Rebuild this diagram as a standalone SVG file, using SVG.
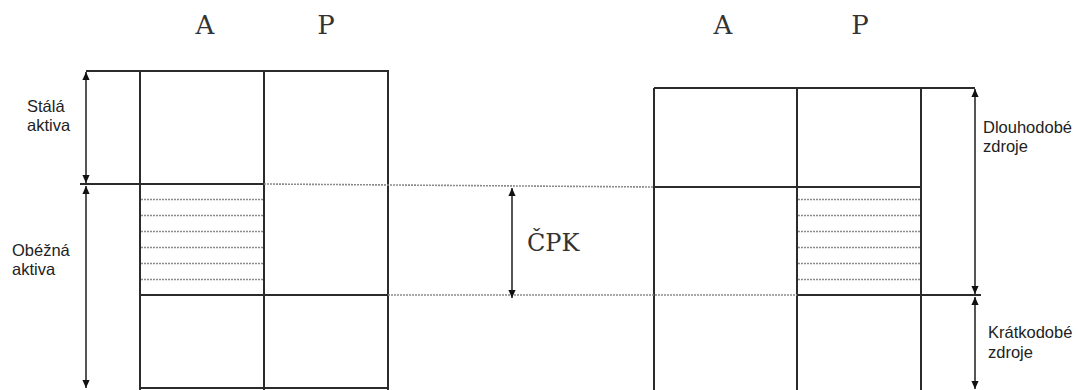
<svg xmlns="http://www.w3.org/2000/svg" width="1078" height="390" viewBox="0 0 1078 390">
<style>
.ln{stroke:#2b2b2b;stroke-width:2;fill:none}
.dot{stroke:#8a8a8a;stroke-width:1.6;stroke-dasharray:2 1;fill:none}
.arr{stroke:#2b2b2b;stroke-width:1.6;fill:none;marker-start:url(#ah);marker-end:url(#ah)}
.hd{font-family:"DejaVu Serif","Liberation Serif",serif;font-size:26px;fill:#333}
.cpk{font-family:"DejaVu Serif","Liberation Serif",serif;font-size:24px;fill:#333}
.lb{font-family:"Liberation Sans","Open Sans",sans-serif;font-size:16.5px;fill:#222}
</style>
<defs>
<marker id="ah" viewBox="0 0 10 10" refX="10" refY="5" markerWidth="8" markerHeight="8" markerUnits="userSpaceOnUse" orient="auto-start-reverse">
<path d="M0,0.5 L10,5 L0,9.5 Z" fill="#111"/>
</marker>
</defs>
<rect width="1078" height="390" fill="#fff"/>
<g id="headers">
<text class="hd" x="205" y="34" text-anchor="middle">A</text>
<text class="hd" x="326" y="34" text-anchor="middle">P</text>
<text class="hd" x="723" y="34" text-anchor="middle">A</text>
<text class="hd" x="860" y="34" text-anchor="middle">P</text>
</g>
<g id="left-balance">
<line class="ln" x1="86" y1="71" x2="389" y2="71"/>
<line class="ln" x1="140" y1="71" x2="140" y2="390"/>
<line class="ln" x1="264" y1="71" x2="264" y2="390"/>
<line class="ln" x1="388" y1="71" x2="388" y2="390"/>
<line class="ln" x1="80" y1="184" x2="264" y2="184"/>
<line class="ln" x1="140" y1="295" x2="388" y2="295"/>
<line class="ln" x1="140" y1="388" x2="388" y2="388"/>
<g class="dot">
<line x1="141" y1="199.5" x2="263" y2="199.5"/>
<line x1="141" y1="215.5" x2="263" y2="215.5"/>
<line x1="141" y1="231.5" x2="263" y2="231.5"/>
<line x1="141" y1="247.5" x2="263" y2="247.5"/>
<line x1="141" y1="263.5" x2="263" y2="263.5"/>
<line x1="141" y1="279.5" x2="263" y2="279.5"/>
</g>
</g>
<g id="right-balance">
<line class="ln" x1="654" y1="88" x2="975" y2="88"/>
<line class="ln" x1="654" y1="88" x2="654" y2="390"/>
<line class="ln" x1="797" y1="88" x2="797" y2="390"/>
<line class="ln" x1="921" y1="88" x2="921" y2="390"/>
<line class="ln" x1="654" y1="187" x2="921" y2="187"/>
<line class="ln" x1="797" y1="295" x2="981" y2="295"/>
<g class="dot">
<line x1="798" y1="199.5" x2="920" y2="199.5"/>
<line x1="798" y1="215.5" x2="920" y2="215.5"/>
<line x1="798" y1="231.5" x2="920" y2="231.5"/>
<line x1="798" y1="247.5" x2="920" y2="247.5"/>
<line x1="798" y1="263.5" x2="920" y2="263.5"/>
<line x1="798" y1="279.5" x2="920" y2="279.5"/>
</g>
</g>
<g id="connectors">
<line class="dot" x1="264" y1="184" x2="654" y2="187"/>
<line class="dot" x1="388" y1="295" x2="797" y2="295"/>
<line class="arr" x1="86" y1="72" x2="86" y2="183"/>
<line class="arr" x1="86" y1="186" x2="86" y2="388"/>
<line class="arr" x1="512" y1="188" x2="512" y2="298"/>
<line class="arr" x1="975" y1="89" x2="975" y2="294"/>
<line class="arr" x1="975" y1="297" x2="975" y2="389"/>
</g>
<g id="labels">
<text class="lb" x="27" y="112">Stálá</text>
<text class="lb" x="27" y="131">aktiva</text>
<text class="lb" x="12" y="256">Obéžná</text>
<text class="lb" x="12" y="275">aktiva</text>
<text class="lb" x="983" y="133">Dlouhodobé</text>
<text class="lb" x="983" y="152">zdroje</text>
<text class="lb" x="988" y="338">Krátkodobé</text>
<text class="lb" x="988" y="357.5">zdroje</text>
<text class="cpk" x="527" y="251">ČPK</text>
</g>
</svg>
